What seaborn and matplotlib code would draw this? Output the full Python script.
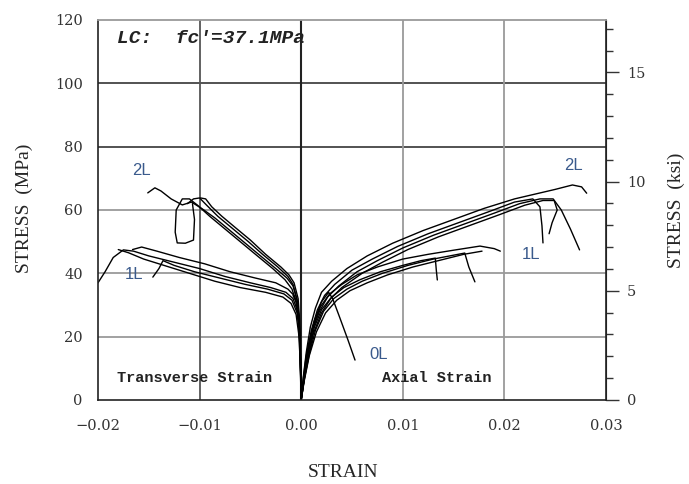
import pandas as pd
import matplotlib
matplotlib.use("Agg")
import matplotlib.pyplot as plt
import seaborn as sns
from matplotlib.ticker import MultipleLocator

# ============================
# DATA
# ============================
# axial side, 2L
ax2l_a_strain = [0, 0.0002, 0.0005, 0.0009, 0.0014, 0.002, 0.003, 0.0045, 0.0065, 0.009, 0.012, 0.015, 0.018, 0.021, 0.023, 0.025, 0.0267, 0.0276, 0.0281]
ax2l_a_stress = [0, 7, 15, 23, 29, 34, 37.5, 41.5, 45.5, 49.5, 53.5, 57, 60.5, 63.5, 65, 66.5, 67.9, 67.3, 65.3]
ax2l_b_strain = [0, 0.0002, 0.0005, 0.001, 0.0016, 0.0023, 0.0033, 0.005, 0.007, 0.0095, 0.0125, 0.0155, 0.0185, 0.021, 0.0228, 0.0235, 0.0237, 0.0238]
ax2l_b_stress = [0, 6.5, 14, 22, 28.5, 33, 36.5, 41, 44.5, 48.5, 52.5, 56, 59.5, 62.5, 63.5, 61, 55, 49.6]
ax2l_c_strain = [0, 0.0003, 0.0006, 0.0011, 0.0018, 0.0026, 0.0037, 0.0055, 0.0075, 0.01, 0.013, 0.016, 0.019, 0.0215, 0.0235, 0.0248, 0.0256, 0.0265, 0.0274]
ax2l_c_stress = [0, 7, 14, 22, 28, 32.5, 36, 40.5, 44, 48, 52, 55.5, 59, 62, 63.5, 63.5, 60, 54, 47.4]
ax2l_d_strain = [0, 0.0003, 0.0007, 0.0012, 0.002, 0.0029, 0.004, 0.006, 0.008, 0.0105, 0.0135, 0.0165, 0.0195, 0.022, 0.0238, 0.0249, 0.0252, 0.0247, 0.0244]
ax2l_d_stress = [0, 6.5, 13.5, 21, 27.5, 32, 35.5, 40, 43.5, 47.5, 51.5, 55, 58.5, 61.5, 63, 63, 60, 56, 52.5]

# axial side, 1L
ax1l_a_strain = [0, 0.0003, 0.0007, 0.0013, 0.002, 0.003, 0.0042, 0.0058, 0.0078, 0.01, 0.0118, 0.0132, 0.0133, 0.0134]
ax1l_a_stress = [0, 7, 15, 23, 28.5, 32.5, 35.5, 38, 40.5, 42.5, 44, 44.8, 41, 37.9]
ax1l_b_strain = [0, 0.0003, 0.0008, 0.0014, 0.0022, 0.0032, 0.0045, 0.006, 0.008, 0.0105, 0.013, 0.0161, 0.0165, 0.0171]
ax1l_b_stress = [0, 6.5, 14.5, 22, 28, 32, 35, 37.5, 40, 42.5, 44.5, 46.4, 42, 37.3]
ax1l_c_strain = [0, 0.0003, 0.0007, 0.0012, 0.0019, 0.0028, 0.004, 0.0055, 0.0075, 0.01, 0.0125, 0.015, 0.0176, 0.019, 0.0196]
ax1l_c_stress = [0, 7, 15.5, 23.5, 29.5, 33.5, 36.5, 39.5, 42, 44.5, 46, 47.3, 48.6, 47.8, 47]
ax1l_d_strain = [0, 0.0003, 0.0008, 0.0015, 0.0024, 0.0035, 0.0048, 0.0065, 0.0085, 0.011, 0.0135, 0.016, 0.0178]
ax1l_d_stress = [0, 6, 14, 21.5, 27.5, 31.5, 34.5, 37, 39.5, 42, 44, 46, 47]

# axial side, 0L
ax0l_strain = [0, 0.0003, 0.0007, 0.0013, 0.002, 0.0027, 0.0031, 0.0038, 0.0046, 0.0053]
ax0l_stress = [0, 8, 17, 25, 31, 34, 32, 26, 19, 12.6]

# transverse side, 2L
tr2l_a_strain = [0, -0.00004, -0.0001, -0.0002, -0.0004, -0.0008, -0.0014, -0.0025, -0.004, -0.0055, -0.007, -0.0085, -0.0098, -0.0108, -0.0117, -0.0128, -0.0138, -0.0144, -0.0151]
tr2l_a_stress = [0, 8, 17, 25, 31.5, 36, 38.5, 41.5, 45.5, 49.5, 53.5, 57.5, 60.5, 62.5, 61.6, 63.5, 66, 67, 65.4]
tr2l_b_strain = [0, -0.00005, -0.0001, -0.0002, -0.0005, -0.0009, -0.0016, -0.0028, -0.0045, -0.006, -0.0075, -0.009, -0.0102, -0.011, -0.0117, -0.0123, -0.0124, -0.0122, -0.0114, -0.0106, -0.0105, -0.0107]
tr2l_b_stress = [0, 8, 16, 24, 31, 35, 38, 41.5, 46, 50, 54, 58, 61.5, 63.5, 63.5, 60, 53, 49.6, 49.5, 50.5, 57, 62]
tr2l_c_strain = [0, -0.00004, -0.0001, -0.0002, -0.0004, -0.0008, -0.0013, -0.0023, -0.0038, -0.0052, -0.0067, -0.0082, -0.0093, -0.01, -0.0106, -0.0112]
tr2l_c_stress = [0, 8, 17, 25, 31.5, 36.5, 39, 42, 46, 50, 54, 58, 61.5, 63.8, 63.5, 62]
tr2l_d_strain = [0, -0.00003, -0.00008, -0.00015, -0.0003, -0.0007, -0.0012, -0.002, -0.0035, -0.005, -0.0065, -0.0078, -0.0088, -0.0094, -0.0099]
tr2l_d_stress = [0, 8, 17, 25, 32, 37, 39.5, 42, 46, 50.5, 54.5, 58, 61, 63.5, 63.8]

# transverse side, 1L
tr1l_a_strain = [0, -0.00005, -0.0001, -0.0002, -0.0004, -0.0008, -0.0015, -0.003, -0.005, -0.0075, -0.01, -0.0125, -0.015, -0.0165, -0.0175, -0.0185, -0.0193, -0.02]
tr1l_a_stress = [0, 8, 16, 23, 28.5, 32, 34, 35.5, 37, 39, 41.5, 43.5, 45.5, 47, 47.4, 45, 40.5, 37]
tr1l_b_strain = [0, -0.00005, -0.0001, -0.0002, -0.0004, -0.0009, -0.0017, -0.0033, -0.0055, -0.008, -0.0105, -0.0125, -0.0136, -0.014, -0.0146]
tr1l_b_stress = [0, 7, 15, 22, 27.5, 31.5, 33.5, 35, 36.5, 38.5, 40.5, 42.5, 44, 41.5, 38.8]
tr1l_c_strain = [0, -0.00004, -0.0001, -0.0002, -0.0003, -0.0007, -0.0013, -0.0025, -0.0045, -0.007, -0.0095, -0.012, -0.0142, -0.0157, -0.0166]
tr1l_c_stress = [0, 8, 17, 24.5, 29.5, 33, 35, 37, 38.5, 40.5, 43, 45, 47, 48.3, 47.5]
tr1l_d_strain = [0, -0.00006, -0.00012, -0.00025, -0.0005, -0.001, -0.0018, -0.0035, -0.006, -0.0085, -0.011, -0.0135, -0.0155, -0.017, -0.018]
tr1l_d_stress = [0, 7, 14, 21, 27, 30.5, 32.5, 34, 35.5, 37.5, 40, 42.5, 44.5, 46.5, 47.5]

# transverse side, 0L
tr0l_strain = [0, -0.00005, -0.00012, -0.00025, -0.0005, -0.0008]
tr0l_stress = [0, 9, 18, 26, 31, 33]

# curve labels
lab_text = ["2L", "1L", "2L", "1L", "0L"]
lab_strain = [-0.0157, -0.0165, 0.0268, 0.0226, 0.0076]
lab_stress = [72.6, 39.5, 73.9, 45.8, 14.5]

# ============================
# LONG TABLE FOR SEABORN
# ============================
curves = [
    ("ax2l_a", ax2l_a_strain, ax2l_a_stress), ("ax2l_b", ax2l_b_strain, ax2l_b_stress),
    ("ax2l_c", ax2l_c_strain, ax2l_c_stress), ("ax2l_d", ax2l_d_strain, ax2l_d_stress),
    ("ax1l_a", ax1l_a_strain, ax1l_a_stress), ("ax1l_b", ax1l_b_strain, ax1l_b_stress),
    ("ax1l_c", ax1l_c_strain, ax1l_c_stress), ("ax1l_d", ax1l_d_strain, ax1l_d_stress),
    ("ax0l", ax0l_strain, ax0l_stress),
    ("tr2l_a", tr2l_a_strain, tr2l_a_stress), ("tr2l_b", tr2l_b_strain, tr2l_b_stress),
    ("tr2l_c", tr2l_c_strain, tr2l_c_stress), ("tr2l_d", tr2l_d_strain, tr2l_d_stress),
    ("tr1l_a", tr1l_a_strain, tr1l_a_stress), ("tr1l_b", tr1l_b_strain, tr1l_b_stress),
    ("tr1l_c", tr1l_c_strain, tr1l_c_stress), ("tr1l_d", tr1l_d_strain, tr1l_d_stress),
    ("tr0l", tr0l_strain, tr0l_stress),
]
rows = []
for name, xs, ys in curves:
    for x, y in zip(xs, ys):
        rows.append({"curve": name, "strain": x, "stress": y})
df = pd.DataFrame(rows)

# ============================
# FIGURE
# ============================
sns.set_style("white")
plt.rcParams["font.family"] = ["DejaVu Serif", "DejaVu Sans"]

fig = plt.figure(figsize=(6.89, 4.84), dpi=100)
ax = fig.add_axes([0.1422, 0.1736, 0.7373, 0.7851])

# grid lines
for y in [20, 40, 60]:
    ax.axhline(y, color="#9a9a9a", lw=1.3, zorder=0)
for y in [80, 100]:
    ax.axhline(y, color="#444444", lw=1.3, zorder=0)
for x in [0.01, 0.02]:
    ax.axvline(x, color="#9a9a9a", lw=1.3, zorder=0)
ax.axvline(-0.01, color="#555555", lw=1.3, zorder=0)
ax.axvline(0.0, color="#222222", lw=1.5, zorder=0)

sns.lineplot(data=df, x="strain", y="stress", units="curve", estimator=None,
             sort=False, color="black", lw=1.0, ax=ax)

ax.set_xlim(-0.02, 0.03)
ax.set_ylim(0, 120)
ax.set_xticks([-0.02, -0.01, 0.0, 0.01, 0.02, 0.03])
ax.set_xticklabels(["\u22120.02", "\u22120.01", "0.00", "0.01", "0.02", "0.03"])
ax.set_yticks([0, 20, 40, 60, 80, 100, 120])
ax.xaxis.set_minor_locator(MultipleLocator(0.002))
ax.yaxis.set_minor_locator(MultipleLocator(5))
ax.tick_params(which="major", direction="out", length=9, width=1, labelsize=10.5, colors="#333333")
ax.tick_params(which="minor", direction="out", length=5, width=1, colors="#333333")
ax.tick_params(axis="y", which="major", pad=2)
ax.tick_params(axis="x", which="major", pad=5)
ax.tick_params(top=False, right=False)

for s in ["left", "bottom", "right"]:
    ax.spines[s].set_color("#222222")
    ax.spines[s].set_linewidth(1.2)
ax.spines["top"].set_color("#9a9a9a")
ax.spines["top"].set_linewidth(1.3)

ax.set_xlabel("STRAIN", family="Liberation Serif", fontsize=14)
ax.xaxis.label.set_va("center")
ax.xaxis.set_label_coords(0.482, -0.192)
ax.set_ylabel("STRESS  (MPa)", family="Liberation Serif", fontsize=14)
ax.yaxis.label.set_va("center")
ax.yaxis.set_label_coords(-0.144, 0.505)

# right axis in ksi
sec = ax.secondary_yaxis("right", functions=(lambda m: m / 6.895, lambda k: k * 6.895))
sec.set_yticks([0, 5, 10, 15])
sec.yaxis.set_minor_locator(MultipleLocator(1))
sec.tick_params(which="major", direction="out", length=9, width=1, pad=6, labelsize=10.5, colors="#333333")
sec.tick_params(which="minor", direction="out", length=5, width=1, colors="#333333")
sec.spines["right"].set_color("#222222")
sec.set_ylabel("STRESS  (ksi)", family="Liberation Serif", fontsize=14, labelpad=16)

# annotations
ax.text(-0.0181, 114, "LC:  fc'=37.1MPa", family="Liberation Mono", fontsize=14,
        fontweight="bold", style="italic", ha="left", va="center", color="#222222")
ax.text(-0.0181, 6.9, "Transverse Strain", family="Liberation Mono", fontsize=11,
        fontweight="bold", ha="left", va="center", color="#222222")
ax.text(0.0080, 6.9, "Axial Strain", family="Liberation Mono", fontsize=11,
        fontweight="bold", ha="left", va="center", color="#222222")
for t, x, y in zip(lab_text, lab_strain, lab_stress):
    ax.text(x, y, t, family="Liberation Sans", fontsize=12, color="#3a5a8c",
            ha="center", va="center")

fig.savefig("out.png", dpi=100)
